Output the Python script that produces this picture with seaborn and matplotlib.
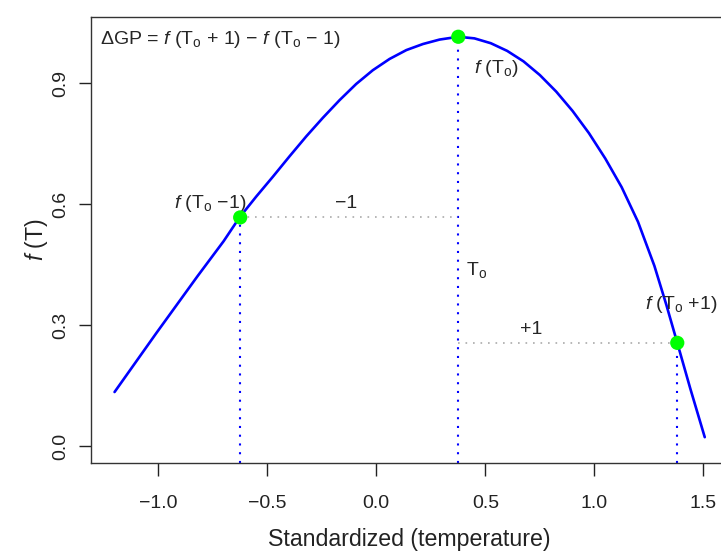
import numpy as np
import pandas as pd
import seaborn as sns
import matplotlib
matplotlib.use("Agg")
import matplotlib.pyplot as plt

# curva (temperatura padronizada x desempenho)
temp = [-1.20, -1.01, -0.82, -0.70, -0.627, -0.55, -0.474, -0.397, -0.321, -0.245,
        -0.168, -0.092, -0.016, 0.061, 0.138, 0.214, 0.290, 0.376, 0.45, 0.525,
        0.60, 0.675, 0.75, 0.825, 0.90, 0.975, 1.05, 1.125, 1.20, 1.275,
        1.33, 1.38, 1.44, 1.506]
perf = [0.134, 0.279, 0.421, 0.508, 0.567, 0.619, 0.668, 0.719, 0.768, 0.814,
        0.858, 0.898, 0.932, 0.960, 0.982, 0.997, 1.008, 1.015, 1.011, 0.999,
        0.980, 0.954, 0.920, 0.879, 0.831, 0.776, 0.713, 0.642, 0.556, 0.447,
        0.350, 0.256, 0.142, 0.022]

# pontos destacados: To - 1, To, To + 1
pts_x = [-0.624, 0.376, 1.380]
pts_y = [0.567, 1.015, 0.256]

xticks = [-1.0, -0.5, 0.0, 0.5, 1.0, 1.5]
yticks = [0.0, 0.3, 0.6, 0.9]
xlim = (-1.308, 1.608)
ylim = (-0.042, 1.064)

sns.set_theme(style="ticks")
plt.rcParams['font.family'] = ['Liberation Sans', 'DejaVu Sans']
plt.rcParams['mathtext.fontset'] = 'custom'
plt.rcParams['mathtext.rm'] = 'Liberation Sans'
plt.rcParams['mathtext.it'] = 'Liberation Sans:italic'
plt.rcParams['mathtext.sf'] = 'Liberation Sans'

fig = plt.figure(figsize=(7.21, 5.51), dpi=100)
ax = fig.add_axes([91 / 721, 88 / 551, 636 / 721, 446 / 551])

df = pd.DataFrame({"temp": temp, "perf": perf})
sns.lineplot(data=df, x="temp", y="perf", color="#0000FF", linewidth=1.9,
             sort=False, ax=ax, zorder=3)
ax.lines[-1].set_solid_joinstyle("round")

# linhas verticais pontilhadas (azuis) e horizontais (cinza)
for xv, yv in zip(pts_x, pts_y):
    ax.plot([xv, xv], [ylim[0], yv], color="#0000FF", linewidth=1.5,
            linestyle=(0, (1, 3.2)), zorder=2)
ax.plot([pts_x[0], pts_x[1]], [pts_y[0], pts_y[0]], color="#AAAAAA",
        linewidth=1.2, linestyle=(0, (1, 3.5)), zorder=2)
ax.plot([pts_x[1], pts_x[2]], [pts_y[2], pts_y[2]], color="#AAAAAA",
        linewidth=1.2, linestyle=(0, (1, 3.5)), zorder=2)

sns.scatterplot(x=pts_x, y=pts_y, color="#00FF00", s=105, edgecolor="none",
                ax=ax, zorder=4)

fs = 14
ax.text(-1.269, 1.007, r"$\Delta$GP = $f$ (T$_{\rm o}$ + 1) − $f$ (T$_{\rm o}$ − 1)",
        fontsize=fs, ha="left", va="center")
ax.text(0.446, 0.937, r"$f$ (T$_{\rm o}$)", fontsize=fs, ha="left", va="center")
ax.text(-0.76, 0.602, r"$f$ (T$_{\rm o}$ −1)", fontsize=fs, ha="center", va="center")
ax.text(-0.14, 0.602, "−1", fontsize=fs, ha="center", va="center")
ax.text(0.41, 0.436, r"T$_{\rm o}$", fontsize=fs, ha="left", va="center")
ax.text(0.712, 0.288, "+1", fontsize=fs, ha="center", va="center")
ax.text(1.396, 0.350, r"$f$ (T$_{\rm o}$ +1)", fontsize=fs, ha="center", va="center")

ax.set_xlim(*xlim)
ax.set_ylim(*ylim)
ax.set_xticks(xticks)
ax.set_xticklabels([f"{v:.1f}".replace("-", "−") for v in xticks])
ax.set_yticks(yticks)
ax.set_yticklabels([f"{v:.1f}" for v in yticks], rotation=90, va="center")
ax.tick_params(axis="both", direction="out", length=9, width=1,
               labelsize=14, color="#222222", labelcolor="#222222")
ax.tick_params(axis="x", pad=14)
ax.tick_params(axis="y", pad=7)
for s in ax.spines.values():
    s.set_visible(True)
    s.set_color("#333333")
    s.set_linewidth(1.0)

ax.set_xlabel("Standardized (temperature)", fontsize=16.7, color="#222222", labelpad=11.5)
ax.set_ylabel(r"$f$ (T)", fontsize=16.7, color="#222222", labelpad=1)

fig.savefig("out.png", dpi=100)
